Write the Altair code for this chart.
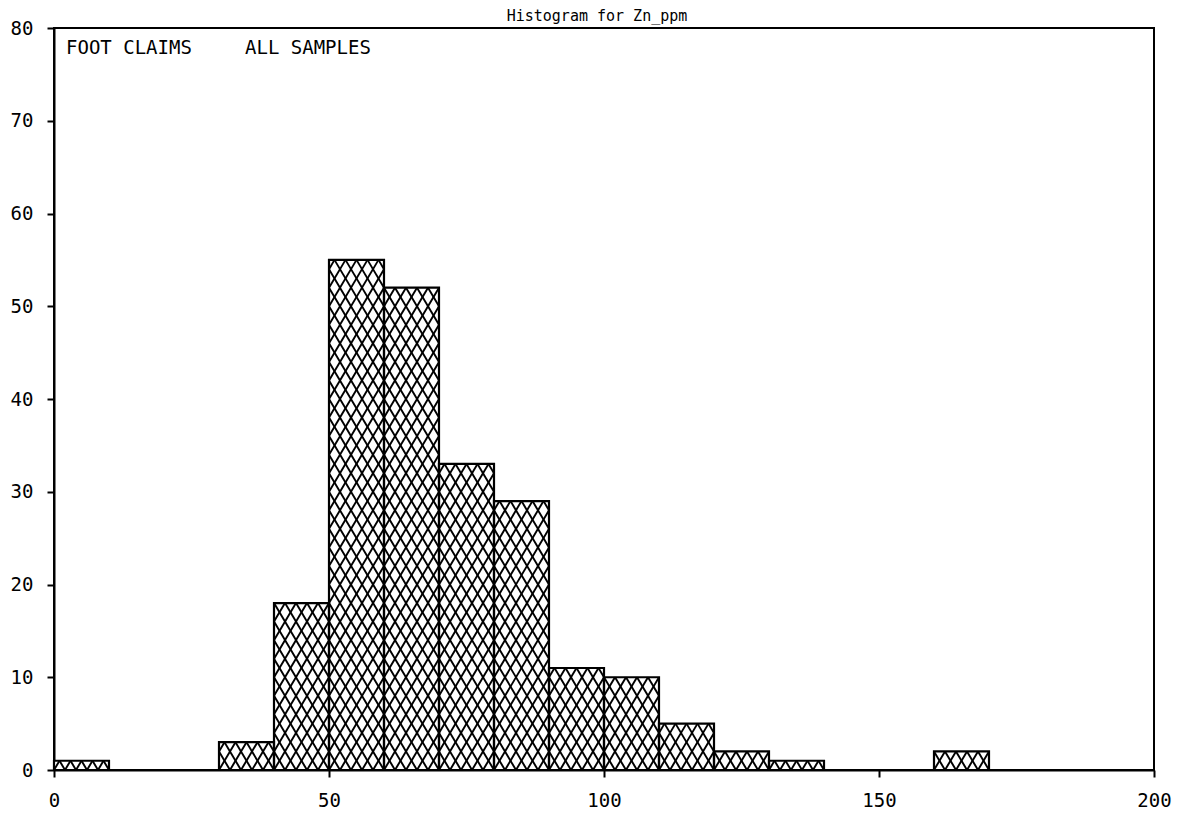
import altair as alt
import pandas as pd

# ---- data ----
bin_starts = [0, 10, 20, 30, 40, 50, 60, 70, 80, 90, 100, 110, 120, 130, 140, 150, 160, 170, 180, 190]
counts     = [1, 0, 0, 3, 18, 55, 52, 33, 29, 11, 10, 5, 2, 1, 0, 0, 2, 0, 0, 0]
bin_width = 10
x_ticks = [0, 50, 100, 150, 200]
y_ticks = [0, 10, 20, 30, 40, 50, 60, 70, 80]
title_text = "Histogram for Zn_ppm"
note_left = "FOOT CLAIMS"
note_right = "ALL SAMPLES"

bars = pd.DataFrame({
    "start": bin_starts,
    "end": [s + bin_width for s in bin_starts],
    "count": counts,
})
bars = bars[bars["count"] > 0]

# cross-hatch segments clipped to each bar (two diagonal families, spacing 2 units)
segs = []
step = 2
for a, b, h in zip(bars["start"], bars["end"], bars["count"]):
    c = -b - ((-b) % step)
    while c <= h - a:
        lo = max(a, -c); hi = min(b, h - c)
        if hi - lo > 1e-9:
            segs.append({"x": lo, "y": lo + c, "x2": hi, "y2": hi + c})
        c += step
    c = a - (a % step)
    while c <= b + h:
        lo = max(a, c - h); hi = min(b, c)
        if hi - lo > 1e-9:
            segs.append({"x": lo, "y": c - lo, "x2": hi, "y2": c - hi})
        c += step
hatch = pd.DataFrame(segs)

xs = alt.Scale(domain=[0, 200], nice=False, zero=False)
ys = alt.Scale(domain=[0, 80], nice=False)

FONT = "DejaVu Sans Mono"

base_bar = alt.Chart(bars).encode(
    x=alt.X("start:Q", scale=xs,
            axis=alt.Axis(values=x_ticks, title=None, grid=False, tickSize=7,
                          labelPadding=14, labelFontSize=19, labelFont=FONT,
                          labelColor="black", domainColor="black", tickColor="black",
                          domainWidth=2, tickWidth=2, labelFlush=False)),
    x2="end:Q",
    y=alt.Y("count:Q", scale=ys,
            axis=alt.Axis(values=y_ticks, title=None, grid=False, tickSize=7,
                          labelPadding=14, labelFontSize=19, labelFont=FONT,
                          labelColor="black", domainColor="black", tickColor="black",
                          domainWidth=2, tickWidth=2, labelFlush=False)),
    y2=alt.datum(0),
)

fill_bars = base_bar.mark_bar(fill="white", stroke=None)
outline_bars = base_bar.mark_bar(fillOpacity=0, stroke="black", strokeWidth=2.2)

hatch_lines = alt.Chart(hatch).mark_rule(color="black", strokeWidth=1.9).encode(
    x=alt.X("x:Q", scale=xs),
    x2="x2:Q",
    y=alt.Y("y:Q", scale=ys),
    y2="y2:Q",
)

note1 = alt.Chart(pd.DataFrame({"t": [note_left]})).mark_text(
    font=FONT, fontSize=19, align="left", baseline="middle", color="black"
).encode(text="t:N", x=alt.value(12), y=alt.value(20))

note2 = alt.Chart(pd.DataFrame({"t": [note_right]})).mark_text(
    font=FONT, fontSize=19, align="left", baseline="middle", color="black"
).encode(text="t:N", x=alt.value(191), y=alt.value(20))

title = alt.Chart(pd.DataFrame({"t": [title_text]})).mark_text(
    font=FONT, fontSize=15, align="center", baseline="alphabetic", color="black"
).encode(text="t:N", x=alt.value(543), y=alt.value(-7))

chart = alt.layer(fill_bars, hatch_lines, outline_bars, note1, note2, title).properties(
    width=1100, height=742,
    padding={"left": 46, "top": 20, "right": 27, "bottom": 43},
    autosize=alt.AutoSizeParams(type="none"),
    background="white",
).configure_view(stroke="black", strokeWidth=2)

chart.save("out.html", embed_options={"renderer": "svg", "actions": False})
